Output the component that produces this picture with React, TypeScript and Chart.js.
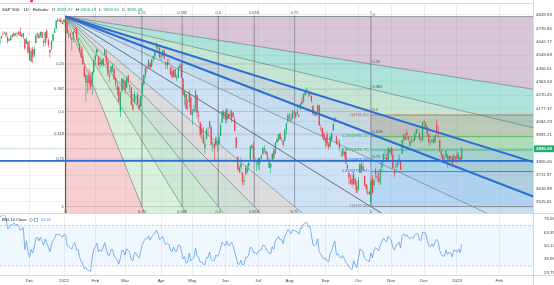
import React, { useEffect, useRef } from "react";
import { Chart, registerables } from "chart.js";

Chart.register(...registerables);

type Bar = [number, number, number, number]; // open, high, low, close
type P = [number, number];

// ---- S&P 500 daily bars (open, high, low, close) ----
const oct2021: Bar[] = [
  [4317,4375,4288,4357],[4348,4356,4279,4300],[4310,4369,4304,4345],[4319,4365,4290,4363],[4384,4430,4383,4399],
  [4406,4412,4386,4391],[4385,4415,4360,4361],[4368,4374,4342,4350],[4358,4372,4341,4364],[4387,4439,4387,4438],
  [4447,4475,4447,4471],[4463,4488,4447,4486],[4497,4520,4496,4520],[4524,4540,4524,4536],[4532,4551,4526,4549],
  [4549,4559,4540,4545],[4553,4572,4537,4567],[4579,4598,4569,4575],[4580,4585,4551,4551],[4562,4597,4562,4596],
  [4572,4608,4567,4605],
];
const nov2021: Bar[] = [
  [4610,4620,4595,4613],[4613,4635,4604,4631],[4630,4664,4616,4660],[4662,4684,4662,4680],[4700,4718,4681,4697],
  [4701,4714,4694,4701],[4707,4708,4670,4685],[4670,4685,4630,4646],[4659,4664,4648,4649],[4655,4688,4651,4682],
  [4689,4698,4672,4682],[4680,4714,4679,4700],[4701,4701,4684,4688],[4700,4708,4672,4704],[4708,4718,4687,4698],
  [4712,4743,4682,4682],[4679,4699,4672,4690],[4675,4702,4659,4701],[4664,4664,4586,4595],[4628,4673,4626,4655],
  [4640,4646,4560,4567],
];
const dec2021: Bar[] = [
  [4602,4652,4510,4513],[4504,4595,4504,4577],[4589,4608,4495,4538],[4549,4612,4532,4591],[4632,4694,4632,4686],
  [4690,4706,4667,4701],[4691,4705,4665,4667],[4688,4713,4671,4712],[4710,4711,4667,4669],[4642,4660,4606,4635],
  [4636,4712,4612,4709],[4719,4731,4651,4669],[4652,4667,4600,4621],[4587,4590,4531,4568],[4594,4651,4583,4649],
  [4650,4697,4645,4697],[4703,4740,4703,4726],[4733,4791,4733,4791],[4795,4807,4780,4786],[4788,4805,4778,4793],
  [4795,4808,4775,4778],[4775,4787,4766,4766],
];
const jan2022: Bar[] = [
  [4778,4797,4758,4797],[4804,4818.62,4775,4794],[4787,4798,4700,4701],[4693,4725,4671,4696],[4698,4708,4663,4677],
  [4655,4674,4582,4670],[4670,4714,4638,4713],[4728,4749,4703,4726],[4733,4745,4651,4659],[4637,4666,4614,4663],
  [4632,4632,4568,4577],[4588,4612,4530,4533],[4547,4603,4483,4483],[4471,4494,4395,4398],[4357,4418,4222,4410],
  [4367,4411,4287,4357],[4408,4453,4304,4350],[4381,4428,4309,4326],[4337,4432,4273,4432],[4431,4516,4415,4516],
];
const feb2022: Bar[] = [
  [4519,4550,4484,4546],[4566,4595,4544,4589],[4536,4542,4471,4477],[4483,4540,4452,4501],[4505,4522,4471,4484],
  [4480,4531,4465,4522],[4548,4590,4548,4587],[4553,4588,4478,4504],[4506,4527,4402,4419],[4413,4427,4365,4401],
  [4430,4472,4430,4472],[4456,4490,4430,4475],[4456,4456,4374,4380],[4385,4394,4327,4349],[4332,4362,4268,4305],
  [4324,4336,4221,4226],[4156,4295,4115,4288],[4298,4385,4287,4385],[4355,4388,4318,4374],
];
const mar2022: Bar[] = [
  [4364,4375,4279,4306],[4322,4401,4322,4387],[4401,4416,4345,4363],[4342,4343,4284,4329],[4327,4327,4199,4201],
  [4203,4277,4158,4171],[4223,4299,4223,4278],[4253,4269,4206,4260],[4279,4292,4200,4204],[4202,4247,4161,4173],
  [4188,4271,4187,4262],[4289,4358,4251,4358],[4345,4412,4335,4412],[4407,4465,4390,4463],[4462,4481,4425,4461],
  [4469,4522,4469,4512],[4493,4501,4455,4456],[4470,4521,4466,4520],[4523,4546,4501,4543],[4541,4575,4517,4575],
  [4603,4637,4584,4632],[4624,4627,4588,4602],[4600,4603,4530,4530],
];
const apr2022: Bar[] = [
  [4540,4549,4507,4546],[4547,4583,4539,4583],[4572,4593,4514,4525],[4495,4503,4450,4481],[4474,4521,4451,4500],
  [4494,4521,4487,4488],[4462,4464,4408,4413],[4437,4471,4382,4397],[4397,4454,4395,4447],[4449,4453,4392,4392],
  [4385,4411,4367,4391],[4390,4471,4388,4463],[4473,4489,4455,4459],[4489,4512,4384,4394],[4385,4386,4267,4272],
  [4255,4300,4200,4296],[4278,4278,4175,4175],[4186,4240,4163,4184],[4222,4308,4188,4288],[4253,4270,4131,4132],
];
const may2022: Bar[] = [
  [4131,4169,4062,4155],[4159,4200,4147,4175],[4181,4307,4148,4300],[4270,4270,4107,4147],[4129,4158,4077,4123],
  [4081,4081,3976,3991],[4036,4068,3959,4001],[3991,4049,3928,3935],[3903,3964,3859,3930],[3963,4038,3963,4024],
  [4013,4047,3983,4008],[4052,4089,4033,4088],[4052,4052,3912,3924],[3900,3946,3877,3901],[3927,3944,3810,3901],
  [3919,3981,3910,3974],[3942,3955,3875,3941],[3929,3999,3925,3979],[3985,4075,3985,4058],[4077,4158,4077,4158],
  [4151,4168,4104,4132],
];
const jun2022: Bar[] = [
  [4149,4167,4074,4101],[4096,4177,4074,4177],[4137,4143,4107,4109],[4135,4169,4110,4121],[4097,4164,4080,4161],
  [4148,4150,4113,4116],[4102,4119,4017,4018],[3975,3975,3900,3901],[3839,3839,3743,3750],[3763,3779,3725,3735],
  [3765,3837,3723,3790],[3729,3729,3640,3667],[3665,3708,3637,3675],[3715,3779,3715,3765],[3734,3790,3722,3760],
  [3774,3803,3743,3796],[3821,3913,3821,3912],[3920,3928,3889,3901],[3913,3945,3820,3822],[3825,3836,3800,3819],
  [3785,3818,3739,3785],
];
const jul2022: Bar[] = [
  [3781,3829,3752,3825],[3792,3832,3742,3831],[3831,3858,3818,3845],[3859,3910,3859,3903],[3888,3918,3869,3899],
  [3881,3881,3851,3855],[3851,3874,3812,3819],[3761,3830,3759,3802],[3764,3797,3722,3791],[3819,3864,3817,3863],
  [3883,3902,3818,3831],[3860,3939,3860,3937],[3936,3974,3936,3960],[3955,3999,3946,3999],[3999,4013,3956,3962],
  [3965,3975,3946,3967],[3954,3954,3910,3921],[3951,4039,3951,4024],[4027,4079,3993,4072],[4087,4141,4079,4130],
];
const aug2022: Bar[] = [
  [4113,4145,4100,4119],[4105,4141,4079,4091],[4107,4167,4107,4155],[4155,4161,4129,4152],[4116,4151,4107,4145],
  [4156,4187,4128,4140],[4133,4137,4112,4122],[4170,4211,4164,4210],[4227,4257,4200,4208],[4225,4280,4219,4280],
  [4270,4301,4262,4297],[4291,4325.28,4277,4305],[4280,4302,4254,4275],[4273,4292,4262,4284],[4266,4266,4219,4228],
  [4195,4196,4130,4138],[4133,4160,4124,4129],[4127,4156,4120,4141],[4154,4200,4148,4199],[4198,4204,4058,4058],
  [4034,4063,4017,4031],[4041,4044,3965,3986],[4000,4015,3954,3955],
];
const sep2022: Bar[] = [
  [3937,3970,3903,3967],[3994,4018,3907,3924],[3930,3942,3886,3909],[3909,3987,3906,3980],[3959,4011,3944,4006],
  [4022,4077,4022,4067],[4083,4119,4083,4110],[3982,3986,3921,3932],[3940,3962,3911,3946],[3933,3957,3880,3901],
  [3876,3876,3838,3873],[3849,3900,3839,3900],[3875,3876,3828,3856],[3871,3907,3789,3790],[3782,3790,3749,3758],
  [3727,3727,3648,3693],[3682,3716,3644,3655],[3686,3717,3624,3647],[3651,3736,3640,3720],[3688,3688,3610,3640],
  [3633,3672,3584,3586],
];
const oct2022: Bar[] = [
  [3609,3698,3604,3678],[3726,3792,3726,3791],[3753,3807,3722,3783],[3771,3797,3744,3745],[3706,3707,3632,3640],
  [3647,3652,3588,3612],[3596,3640,3570,3589],[3591,3608,3573,3577],[3520,3685,3491.58,3670],[3690,3712,3584,3583],
  [3638,3680,3638,3677],[3747,3762,3687,3720],[3703,3728,3667,3695],[3689,3736,3656,3666],[3657,3753,3641,3752],
  [3763,3806,3735,3797],[3799,3862,3799,3859],[3825,3886,3824,3830],[3834,3859,3803,3807],[3809,3905,3808,3901],
  [3881,3893,3863,3872],
];
const nov2022: Bar[] = [
  [3901,3911,3843,3856],[3853,3894,3759,3760],[3733,3750,3699,3720],[3766,3796,3722,3771],[3780,3813,3763,3807],
  [3817,3859,3786,3828],[3810,3818,3745,3749],[3859,3958,3859,3956],[3964,4001,3944,3993],[3977,4009,3956,3957],
  [4007,4029,3954,3992],[3977,3984,3955,3959],[3920,3955,3906,3947],[3967,3979,3933,3965],[3957,3962,3940,3950],
  [3956,4004,3947,4004],[4000,4034,3999,4027],[4023,4035,4021,4026],[4006,4013,3956,3964],[3964,3976,3937,3958],
  [3958,4080,3944,4080],
];
const dec2022: Bar[] = [
  [4087,4100.51,4050,4077],[4040,4080,4026,4072],[4053,4053,3984,3999],[3996,4001,3918,3941],[3934,3951,3916,3934],
  [3947,3966,3935,3964],[3954,3977,3933,3934],[3940,3991,3937,3991],[4070,4100.96,3994,4019],[4016,4054,3966,3996],
  [3959,3959,3873,3896],[3879,3890,3828,3852],[3853,3855,3798,3818],[3810,3839,3796,3821],[3840,3889,3828,3879],
  [3853,3853,3765,3822],[3815,3846,3798,3845],[3843,3847,3803,3829],[3829,3849,3780,3783],[3805,3858,3805,3849],
  [3830,3840,3801,3839],
];
const jan2023: Bar[] = [
  [3853,3878,3794,3824],[3840,3873,3815,3853],[3840,3840,3802,3808],[3823.37,3906.19,3809.56,3895.08],
];

const bars: Bar[] = [
  ...oct2021, ...nov2021, ...dec2021, ...jan2022, ...feb2022, ...mar2022, ...apr2022, ...may2022,
  ...jun2022, ...jul2022, ...aug2022, ...sep2022, ...oct2022, ...nov2022, ...dec2022, ...jan2023,
];

// ---- axes ----
const monthLabels = ["Dec","2022","Feb","Mar","Apr","May","Jun","Jul","Aug","Sep","Oct","Nov","Dec","2023","Feb"];
const monthTickBars = [42,64,84,103,126,146,167,188,208,231,252,273,294,315,342];
const priceTicks = [4828.93,4735.85,4642.77,4549.69,4456.61,4363.53,4270.45,4177.37,4084.29,3991.21,3898.13,3805.05,3711.97,3618.89,3525.81];
const rsiTicks = [76.58,63.35,50.17,36.98,23.79];
const xRange = [23.12, 363.55];
const priceRange = [3446.9, 4905.7];
const rsiRange = [21.12, 80.54];

// ---- drawings ----
const fanLevels = [0, 0.25, 0.382, 0.5, 0.618, 0.75, 1];
const fanStart = { bar: 65, price: 4818.62 };
const fanEnd = { bar: 260, price: 3491.58 };
const trendRayLevels = [0.5, 0.618];
const fibLevels = [0, 0.236, 0.382, 0.5, 0.618, 1];
const fibStartBar = 260;
const fibHigh = 4131.0;
const fibLow = 3491.58;
const supportPrice = 3811;
const rsiPeriod = 14;
const rsiUpper = 70;
const rsiLower = 30;
const symbolTitle = "S&P 500 · 1D · Refinitiv";

// ---- styles ----
const FONT = "'Liberation Sans', Arial, sans-serif";
const UP = "#26a96c";
const DOWN = "#e9474f";
const BLUE = "#2b6fd6";
const GRID = "rgba(42,46,57,0.07)";
const fanPriceFills = [
  "rgba(177,141,169,0.5)", "rgba(93,199,181,0.5)", "rgba(137,205,165,0.5)",
  "rgba(141,179,181,0.5)", "rgba(141,187,225,0.5)", "rgba(159,197,235,0.5)",
];
const fanTimeFills = [
  "rgba(239,159,161,0.5)", "rgba(177,225,185,0.5)", "rgba(151,211,165,0.5)",
  "rgba(159,193,173,0.5)", "rgba(185,185,189,0.5)", "rgba(159,197,235,0.5)",
];
const fibFills = [
  "rgba(150,105,85,0.22)", "rgba(76,175,80,0.18)", "rgba(0,150,136,0.15)",
  "rgba(0,140,200,0.15)", "rgba(33,150,243,0.14)",
];
const fibLineColors = ["#b85a50", "#4caf50", "#3ea58a", BLUE, BLUE, "#787b86"];
const fibLabelColors = ["#d9534f", "#3a9d5d", "#3a9d5d", BLUE, BLUE, "#787b86"];

function computeRsi(values: number[], period: number): (number | null)[] {
  const out: (number | null)[] = values.map(() => null);
  let g = 0, l = 0;
  for (let i = 1; i <= period; i++) {
    const d = values[i] - values[i - 1];
    if (d > 0) g += d; else l -= d;
  }
  g /= period; l /= period;
  out[period] = l === 0 ? 100 : 100 - 100 / (1 + g / l);
  for (let i = period + 1; i < values.length; i++) {
    const d = values[i] - values[i - 1];
    g = (g * (period - 1) + Math.max(d, 0)) / period;
    l = (l * (period - 1) + Math.max(-d, 0)) / period;
    out[i] = l === 0 ? 100 : 100 - 100 / (1 + g / l);
  }
  return out;
}

const lineDs = (pts: P[], color: string, width: number, order: number, dash: number[] = []) => ({
  type: "line" as const,
  data: pts.map(([x, y]) => ({ x, y })),
  borderColor: color,
  borderWidth: width,
  borderDash: dash,
  pointRadius: 0,
  fill: false,
  tension: 0,
  order,
  clip: 0,
});
const polyDs = (pts: P[], color: string, order: number) => ({
  type: "line" as const,
  data: [...pts, pts[0]].map(([x, y]) => ({ x, y })),
  borderColor: "rgba(0,0,0,0)",
  borderWidth: 0,
  backgroundColor: color,
  pointRadius: 0,
  fill: "shape",
  tension: 0,
  order,
  clip: 0,
});

function mainDatasets() {
  const ds: any[] = [];
  const dx = fanEnd.bar - fanStart.bar;
  const dp = fanStart.price - fanEnd.price;
  const FAR = 12;
  const O: P = [fanStart.bar, fanStart.price];
  const priceRayEnd = (l: number): P => [fanStart.bar + FAR * dx, fanStart.price - FAR * l * dp];
  const timeRayEnd = (l: number): P => [fanStart.bar + FAR * l * dx, fanStart.price - FAR * dp];
  for (let j = 0; j < fanLevels.length - 1; j++) {
    ds.push(polyDs([O, priceRayEnd(fanLevels[j]), priceRayEnd(fanLevels[j + 1])], fanPriceFills[j], 100));
    ds.push(polyDs([O, timeRayEnd(fanLevels[j]), timeRayEnd(fanLevels[j + 1])], fanTimeFills[j], 100));
  }
  const fibPrice = (l: number) => fibHigh - l * (fibHigh - fibLow);
  const farX = xRange[1] + 40;
  for (let j = 0; j < fibLevels.length - 1; j++) {
    const a = fibPrice(fibLevels[j]), b = fibPrice(fibLevels[j + 1]);
    ds.push(polyDs([[fibStartBar, a], [farX, a], [farX, b], [fibStartBar, b]], fibFills[j], 90));
  }
  fanLevels.forEach((l) => {
    const p = fanStart.price - l * dp;
    const x = fanStart.bar + l * dx;
    ds.push(lineDs([[fanStart.bar, p], [fanEnd.bar, p]], "rgba(110,114,126,0.55)", 0.5, 80));
    ds.push(lineDs([[x, fanStart.price + 6], [x, fanEnd.price]], "rgba(110,114,126,0.55)", 0.5, 80));
    ds.push(lineDs([O, priceRayEnd(l)], "rgba(60,78,88,0.75)", 0.6, 70));
    ds.push(lineDs([O, timeRayEnd(l)], "rgba(60,78,88,0.75)", 0.6, 70));
  });
  fibLevels.forEach((l, i) => {
    const p = fibPrice(l);
    ds.push(lineDs([[fibStartBar, p], [farX, p]], fibLineColors[i], 0.8, 60));
  });
  const last = bars[bars.length - 1];
  ds.push(lineDs([[xRange[0] - 5, last[3]], [xRange[1] + 5, last[3]]], "rgba(38,169,108,0.8)", 0.6, 55, [1, 1.5]));
  // candles
  const isUp = (i: number) => bars[i][3] >= bars[i][0];
  ds.push({
    type: "bar",
    data: bars.map((b, i) => ({ x: i, y: [b[2], b[1]] })),
    backgroundColor: (c: any) => (isUp(c.dataIndex) ? UP : DOWN),
    barThickness: 0.6,
    grouped: false,
    inflateAmount: 0,
    order: 41,
  });
  ds.push({
    type: "bar",
    data: bars.map((b, i) => ({ x: i, y: [b[0], b[3]] })),
    backgroundColor: (c: any) => (isUp(c.dataIndex) ? UP : DOWN),
    barThickness: 1.3,
    grouped: false,
    inflateAmount: 0,
    order: 40,
  });
  ds.push(lineDs([[xRange[0] - 5, supportPrice], [xRange[1] + 5, supportPrice]], BLUE, 1.6, 20));
  trendRayLevels.forEach((l) => ds.push(lineDs([O, priceRayEnd(l)], BLUE, 2, 20)));
  return ds;
}

const mainOverlay = {
  id: "mainOverlay",
  afterDatasetsDraw(chart: any) {
    const { ctx, scales, chartArea } = chart;
    const X = (v: number) => scales.x.getPixelForValue(v);
    const Y = (v: number) => scales.y.getPixelForValue(v);
    const dx = fanEnd.bar - fanStart.bar;
    const dp = fanStart.price - fanEnd.price;
    ctx.save();
    ctx.beginPath();
    ctx.rect(chartArea.left, chartArea.top, chartArea.right - chartArea.left, chartArea.bottom - chartArea.top);
    ctx.clip();
    ctx.font = `4px ${FONT}`;
    ctx.fillStyle = "#4a4e5a";
    ctx.textBaseline = "middle";
    ctx.textAlign = "center";
    fanLevels.forEach((l) => {
      const x = X(fanStart.bar + l * dx);
      if (l > 0) ctx.fillText(String(l), x, Y(fanStart.price) - 3.6);
      ctx.fillText(String(l), x, Y(fanEnd.price) + 5);
    });
    ctx.textAlign = "right";
    fanLevels.forEach((l) => {
      if (l > 0) ctx.fillText(String(l), X(fanStart.bar) - 1.5, Y(fanStart.price - l * dp));
    });
    ctx.textAlign = "left";
    fanLevels.forEach((l) => {
      if (l < 1) ctx.fillText(String(l), X(fanEnd.bar) + 1.5, Y(fanStart.price - l * dp) - 2);
    });
    ctx.textAlign = "right";
    fibLevels.forEach((l, i) => {
      const p = fibHigh - l * (fibHigh - fibLow);
      ctx.fillStyle = fibLabelColors[i];
      ctx.fillText(`${l}(${p.toFixed(2)})`, X(fibStartBar) - 2, Y(p) - 0.5);
    });
    ctx.restore();
  },
  afterDraw(chart: any) {
    const { ctx, scales, chartArea, width, height } = chart;
    const last = bars[bars.length - 1];
    ctx.save();
    // pane borders
    ctx.strokeStyle = "rgba(42,46,57,0.18)";
    ctx.lineWidth = 1;
    ctx.beginPath();
    ctx.moveTo(chartArea.right + 0.5, 0);
    ctx.lineTo(chartArea.right + 0.5, height);
    ctx.moveTo(0, height - 0.5);
    ctx.lineTo(width, height - 0.5);
    ctx.moveTo(0, chartArea.top - 0.5);
    ctx.lineTo(chartArea.right, chartArea.top - 0.5);
    ctx.stroke();
    // last price label
    const y = scales.y.getPixelForValue(last[3]);
    ctx.fillStyle = UP;
    ctx.fillRect(chartArea.right + 1, y - 3.4, width - chartArea.right - 1, 6.8);
    ctx.fillStyle = "#fff";
    ctx.font = `bold 4.4px ${FONT}`;
    ctx.textBaseline = "middle";
    ctx.textAlign = "left";
    ctx.fillText(last[3].toFixed(2), chartArea.right + 3, y + 0.2);
    // header legend
    ctx.font = `4.4px ${FONT}`;
    let x = 2;
    const hy = 10;
    ctx.fillStyle = "#131722";
    ctx.fillText(symbolTitle, x, hy);
    x += ctx.measureText(symbolTitle).width + 3.5;
    const parts: [string, number][] = [["O", last[0]], ["H", last[1]], ["L", last[2]], ["C", last[3]]];
    parts.forEach(([k, v]) => {
      ctx.fillStyle = "#131722";
      ctx.fillText(k, x, hy);
      x += ctx.measureText(k).width + 1.5;
      ctx.fillStyle = UP;
      const t = v.toFixed(2);
      ctx.fillText(t, x, hy);
      x += ctx.measureText(t).width + 3;
    });
    // red dot
    ctx.fillStyle = "#f23645";
    ctx.beginPath();
    ctx.arc(31.5, 1, 1.5, 0, Math.PI * 2);
    ctx.fill();
    ctx.restore();
  },
};

const rsiValues = computeRsi(bars.map((b) => b[3]), rsiPeriod);

const rsiOverlay = {
  id: "rsiOverlay",
  afterDraw(chart: any) {
    const { ctx, chartArea, height } = chart;
    ctx.save();
    ctx.strokeStyle = "rgba(42,46,57,0.18)";
    ctx.lineWidth = 1;
    ctx.beginPath();
    ctx.moveTo(chartArea.right + 0.5, 0);
    ctx.lineTo(chartArea.right + 0.5, height);
    ctx.moveTo(0, chartArea.bottom + 0.5);
    ctx.lineTo(chart.width, chartArea.bottom + 0.5);
    ctx.stroke();
    ctx.font = `4.2px ${FONT}`;
    ctx.textBaseline = "middle";
    ctx.textAlign = "left";
    ctx.fillStyle = "#131722";
    const title = "RSI 14 Close";
    ctx.fillText(title, 2, 6);
    let x = 2 + ctx.measureText(title).width + 3;
    ctx.strokeStyle = "#6a6d78";
    ctx.lineWidth = 0.5;
    ctx.beginPath();
    ctx.arc(x + 1.5, 6, 1.4, 0, Math.PI * 2);
    ctx.stroke();
    ctx.strokeRect(x + 5, 4.6, 2.6, 2.8);
    x += 11;
    const lastRsi = rsiValues[rsiValues.length - 1] as number;
    ctx.fillStyle = "#4d8fe6";
    ctx.fillText(lastRsi.toFixed(2), x, 6);
    ctx.restore();
  },
};

export default function App() {
  const mainRef = useRef<HTMLCanvasElement>(null);
  const rsiRef = useRef<HTMLCanvasElement>(null);

  useEffect(() => {
    const xCommon = {
      type: "linear" as const,
      min: xRange[0],
      max: xRange[1],
      offset: false,
      afterBuildTicks: (s: any) => {
        s.ticks = monthTickBars.map((v) => ({ value: v }));
      },
      grid: { color: GRID, drawTicks: false, offset: false },
      border: { display: false },
    };
    const main = new Chart(mainRef.current as HTMLCanvasElement, {
      type: "line",
      data: { datasets: mainDatasets() },
      options: {
        responsive: false,
        animation: false,
        events: [],
        layout: { padding: { top: 4, bottom: 1, left: 0, right: 0 } },
        plugins: { legend: { display: false }, tooltip: { enabled: false } },
        scales: {
          x: {
            ...xCommon,
            ticks: { display: false },
            afterFit: (s: any) => {
              s.height = 0;
              s.paddingLeft = 0;
              s.paddingRight = 0;
            },
          },
          y: {
            type: "linear",
            position: "right",
            min: priceRange[0],
            max: priceRange[1],
            afterBuildTicks: (s: any) => {
              s.ticks = priceTicks.map((v) => ({ value: v }));
            },
            afterFit: (s: any) => {
              s.width = 21;
              s.paddingTop = 0;
              s.paddingBottom = 0;
            },
            ticks: {
              callback: (v: any) => Number(v).toFixed(2),
              font: { size: 4.4, family: FONT },
              color: "#3b3f4a",
              padding: 3,
            },
            grid: { color: GRID, drawTicks: false },
            border: { display: false },
          },
        },
      } as any,
      plugins: [mainOverlay],
    } as any);

    const rsiData = rsiValues
      .map((v, i) => (v === null ? null : { x: i, y: v }))
      .filter((p) => p !== null);
    const band: P[] = [
      [xRange[0] - 5, rsiUpper], [xRange[1] + 5, rsiUpper],
      [xRange[1] + 5, rsiLower], [xRange[0] - 5, rsiLower],
    ];
    const rsi = new Chart(rsiRef.current as HTMLCanvasElement, {
      type: "line",
      data: {
        datasets: [
          polyDs(band, "rgba(33,150,243,0.07)", 30),
          lineDs([[xRange[0] - 5, rsiUpper], [xRange[1] + 5, rsiUpper]], "rgba(100,140,190,0.75)", 0.6, 20, [2, 2]),
          lineDs([[xRange[0] - 5, rsiLower], [xRange[1] + 5, rsiLower]], "rgba(100,140,190,0.75)", 0.6, 20, [2, 2]),
          {
            type: "line",
            data: rsiData,
            borderColor: "#5e9ee8",
            borderWidth: 0.8,
            pointRadius: 0,
            fill: false,
            tension: 0,
            order: 10,
            clip: 0,
          },
        ],
      },
      options: {
        responsive: false,
        animation: false,
        events: [],
        layout: { padding: { top: 1, bottom: 0, left: 0, right: 0 } },
        plugins: { legend: { display: false }, tooltip: { enabled: false } },
        scales: {
          x: {
            ...xCommon,
            ticks: {
              callback: (_v: any, i: number) => monthLabels[i],
              font: { size: 4.4, family: FONT },
              color: "#3b3f4a",
              padding: 3,
              autoSkip: false,
              maxRotation: 0,
            },
            afterFit: (s: any) => {
              s.height = 10;
              s.paddingLeft = 0;
              s.paddingRight = 0;
            },
          },
          y: {
            type: "linear",
            position: "right",
            min: rsiRange[0],
            max: rsiRange[1],
            afterBuildTicks: (s: any) => {
              s.ticks = rsiTicks.map((v) => ({ value: v }));
            },
            afterFit: (s: any) => {
              s.width = 21;
              s.paddingTop = 0;
              s.paddingBottom = 0;
            },
            ticks: {
              callback: (v: any) => Number(v).toFixed(2),
              font: { size: 4.4, family: FONT },
              color: "#3b3f4a",
              padding: 3,
            },
            grid: { display: false },
            border: { display: false },
          },
        },
      } as any,
      plugins: [rsiOverlay],
    } as any);

    return () => {
      main.destroy();
      rsi.destroy();
    };
  }, []);

  return (
    <div style={{ position: "fixed", left: 0, top: 0, width: 554, height: 285, background: "#ffffff", overflow: "hidden" }}>
      <canvas ref={mainRef} width={554} height={214} style={{ position: "absolute", left: 0, top: 0, width: 554, height: 214 }} />
      <canvas ref={rsiRef} width={554} height={71} style={{ position: "absolute", left: 0, top: 214, width: 554, height: 71 }} />
    </div>
  );
}
